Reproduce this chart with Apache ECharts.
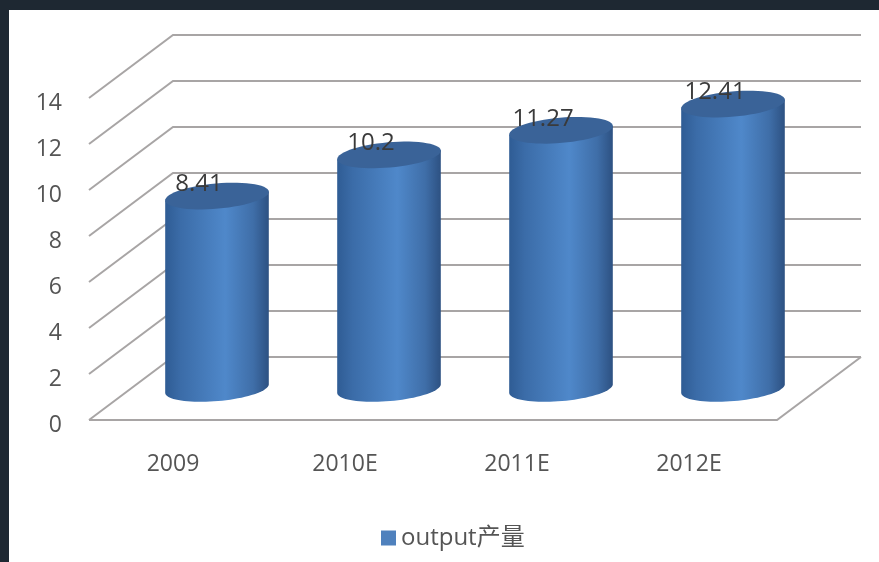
<!DOCTYPE html>
<html>
<head>
<meta charset="utf-8">
<style>
html,body{margin:0;padding:0;width:879px;height:562px;background:#1e2832;overflow:hidden}
#chart{position:absolute;left:9px;top:10px;width:870px;height:552px;background:#fff;filter:blur(0.7px)}
</style>
<script src="https://cdn.jsdelivr.net/npm/echarts@6/dist/echarts.min.js"></script>
</head>
<body>
<div id="chart"></div>
<script>
var categories = ['2009', '2010E', '2011E', '2012E'];
var values = [8.41, 10.2, 11.27, 12.41];
var valueLabels = ['8.41', '10.2', '11.27', '12.41'];
var yTicks = [0, 2, 4, 6, 8, 10, 12, 14];
var seriesName = 'output产量';

var FONT = '"Open Sans","Noto Sans CJK SC",sans-serif';
var DEPTH_X = 84, DEPTH_Y = 63;
var RX = 52, RY = 12.6, TILT = -5 * Math.PI / 180;
var LINE = '#a8a5a5';

function ellipsePoint(cx, cy, t) {
  return [
    cx + RX * Math.cos(t) * Math.cos(TILT) - RY * Math.sin(t) * Math.sin(TILT),
    cy + RX * Math.cos(t) * Math.sin(TILT) + RY * Math.sin(t) * Math.cos(TILT)
  ];
}
function ellipsePoints(cx, cy, from, to, n) {
  var pts = [];
  for (var i = 0; i <= n; i++) {
    pts.push(ellipsePoint(cx, cy, from + (to - from) * i / n));
  }
  return pts;
}

function renderWall(params, api) {
  var tick = api.value(1);
  var cs = params.coordSys;
  var y = api.coord([0, tick])[1];
  var x0 = cs.x, x1 = cs.x + cs.width;
  var children = [{
    type: 'polyline',
    shape: { points: [[x0, y], [x0 + DEPTH_X, y - DEPTH_Y], [x1 + DEPTH_X, y - DEPTH_Y]] },
    style: { fill: null, stroke: LINE, lineWidth: 2 }
  }];
  if (tick === 0) {
    children.push({
      type: 'polyline',
      shape: { points: [[x0, y], [x1, y], [x1 + DEPTH_X, y - DEPTH_Y]] },
      style: { fill: null, stroke: LINE, lineWidth: 2 }
    });
  }
  return { type: 'group', children: children };
}

function renderCylinder(params, api) {
  var i = api.value(0), v = api.value(1);
  var top = api.coord([i, v]);
  var base = api.coord([i, 0]);
  var cx = top[0] + DEPTH_X / 2;
  var topY = top[1] - DEPTH_Y / 2 + 1;
  var baseY = base[1] - DEPTH_Y / 2;
  var lower = ellipsePoints(cx, baseY, Math.PI, 0, 40);
  var body = lower.concat([ellipsePoint(cx, topY, 0), ellipsePoint(cx, topY, Math.PI)]);
  return {
    type: 'group',
    children: [{
      type: 'polygon',
      shape: { points: body },
      style: {
        fill: new echarts.graphic.LinearGradient(0, 0, 1, 0, [
          { offset: 0, color: '#2f5c94' },
          { offset: 0.15, color: '#3b6ca8' },
          { offset: 0.58, color: '#4f88ca' },
          { offset: 0.85, color: '#3f6ea8' },
          { offset: 1, color: '#2d5182' }
        ])
      }
    }, {
      type: 'polygon',
      shape: { points: ellipsePoints(cx, topY, 0, Math.PI * 2, 60) },
      style: { fill: '#3a6398' }
    }, {
      type: 'text',
      style: {
        x: top[0] + 24,
        y: top[1] - 42,
        text: valueLabels[params.dataIndex],
        fill: '#3a3a3a',
        font: '24px ' + FONT,
        align: 'center',
        verticalAlign: 'middle'
      }
    }]
  };
}

var chart = echarts.init(document.getElementById('chart'), null, { renderer: 'canvas' });
chart.setOption({
  animation: false,
  backgroundColor: '#ffffff',
  grid: { left: 80, top: 88, width: 688, height: 322, containLabel: false },
  xAxis: {
    type: 'category',
    data: categories,
    axisLine: { show: false },
    axisTick: { show: false },
    axisLabel: { color: '#555555', fontSize: 23, fontFamily: FONT, margin: 33, padding: [0, 4, 0, 0] }
  },
  yAxis: {
    type: 'value',
    min: 0,
    max: 14,
    interval: 2,
    axisLine: { show: false },
    axisTick: { show: false },
    splitLine: { show: false },
    axisLabel: { color: '#555555', fontSize: 23, fontFamily: FONT, margin: 27, verticalAlign: 'top', lineHeight: 11 }
  },
  legend: {
    show: true,
    left: 367,
    top: 511,
    data: [seriesName],
    icon: 'rect',
    itemWidth: 15,
    itemHeight: 15,
    itemGap: 6,
    textStyle: { color: '#555555', fontSize: 24, fontFamily: FONT },
    selectedMode: false
  },
  series: [{
    type: 'custom',
    name: 'walls',
    z: 1,
    silent: true,
    clip: false,
    encode: { x: 0, y: 1 },
    data: yTicks.map(function (t) { return [0, t]; }),
    renderItem: renderWall
  }, {
    type: 'custom',
    name: seriesName,
    z: 2,
    clip: false,
    itemStyle: { color: '#4f81bd' },
    encode: { x: 0, y: 1 },
    data: values.map(function (v, i) { return [i, v]; }),
    renderItem: renderCylinder
  }]
});
</script>
</body>
</html>
